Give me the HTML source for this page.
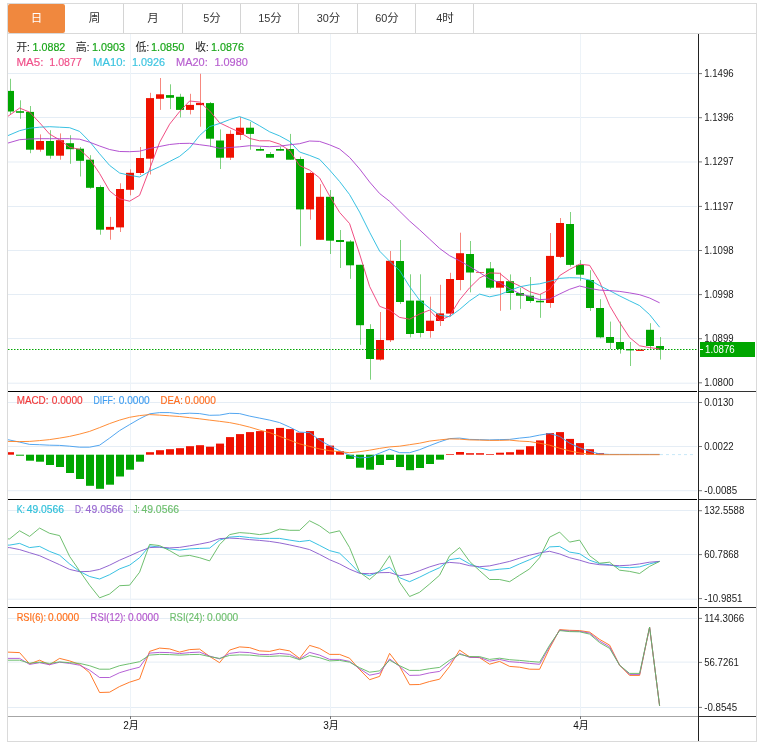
<!DOCTYPE html>
<html lang="zh-CN"><head><meta charset="utf-8"><title>K线图</title>
<style>
html,body{margin:0;padding:0;background:#fff}
body{width:766px;height:751px;position:relative;overflow:hidden;font-family:"Liberation Sans","Noto Sans CJK SC",sans-serif}
.box{position:absolute;left:7px;top:3px;width:748px;height:737px;border:1px solid #dadada;background:#fff}
.tabs{position:absolute;left:8px;top:4px;width:748px;height:29px;border-bottom:1px solid #d9d9d9;background:#fff}
.tab{position:absolute;top:4px;height:29px;line-height:29px;text-align:center;font-size:11.5px;color:#333;border-right:1px solid #d4d4d4;box-sizing:content-box}
.tab .n{font-size:10.9px;padding-left:1px}
.tab.on{background:#f0883e;color:#fff;border-right-color:#f0883e;border-radius:2px;width:57px !important;border-right:0}
svg text{font-family:"Liberation Sans","Noto Sans CJK SC",sans-serif}
.ax{font-size:10.3px;fill:#1a1a1a}
.xl{font-size:10px;fill:#111}
.lg{font-size:11.3px}
.cj{font-size:11px}
.ls{font-size:11.1px}
</style></head><body>
<div class="box"></div>
<div class="tabs"></div>
<div class="tab on" style="left:8px;width:57px">日</div><div class="tab" style="left:66px;width:57px">周</div><div class="tab" style="left:124px;width:58px">月</div><div class="tab" style="left:183px;width:57px"><span class="n">5</span>分</div><div class="tab" style="left:241px;width:57px"><span class="n">15</span>分</div><div class="tab" style="left:299px;width:58px"><span class="n">30</span>分</div><div class="tab" style="left:358px;width:57px"><span class="n">60</span>分</div><div class="tab" style="left:416px;width:57px"><span class="n">4</span>时</div>
<svg width="766" height="751" viewBox="0 0 766 751" style="position:absolute;left:0;top:0">
<defs><clipPath id="cp"><rect x="8" y="34" width="690" height="682"/></clipPath></defs>
<g><rect x="8" y="73" width="689" height="1" fill="#e5edf5"/><rect x="8" y="117" width="689" height="1" fill="#e5edf5"/><rect x="8" y="161.5" width="689" height="1" fill="#e5edf5"/><rect x="8" y="206" width="689" height="1" fill="#e5edf5"/><rect x="8" y="250" width="689" height="1" fill="#e5edf5"/><rect x="8" y="294" width="689" height="1" fill="#e5edf5"/><rect x="8" y="338" width="689" height="1" fill="#e5edf5"/><rect x="8" y="382.7" width="689" height="1" fill="#e5edf5"/><rect x="8" y="402" width="689" height="1" fill="#e5edf5"/><rect x="8" y="446" width="689" height="1" fill="#e5edf5"/><rect x="8" y="490.2" width="689" height="1" fill="#e5edf5"/><rect x="8" y="510" width="689" height="1" fill="#e5edf5"/><rect x="8" y="554" width="689" height="1" fill="#e5edf5"/><rect x="8" y="598.7" width="689" height="1" fill="#e5edf5"/><rect x="8" y="618" width="689" height="1" fill="#e5edf5"/><rect x="8" y="661.6" width="689" height="1" fill="#e5edf5"/><rect x="8" y="707" width="689" height="1" fill="#e5edf5"/><rect x="130" y="34" width="1" height="682" fill="#edf3f8"/><rect x="330" y="34" width="1" height="682" fill="#edf3f8"/><rect x="580" y="34" width="1" height="682" fill="#edf3f8"/></g>
<rect x="8" y="391" width="689" height="1" fill="#000"/>
<rect x="699" y="391" width="57" height="1" fill="#333"/>
<rect x="8" y="499" width="689" height="1" fill="#000"/>
<rect x="699" y="499" width="57" height="1" fill="#333"/>
<rect x="8" y="607" width="689" height="1" fill="#000"/>
<rect x="699" y="607" width="57" height="1" fill="#333"/>
<rect x="8" y="716" width="690" height="1" fill="#a6a6a6"/>
<rect x="698" y="716" width="58" height="1" fill="#333"/>
<rect x="130" y="716" width="1" height="3" fill="#777"/>
<rect x="330" y="716" width="1" height="3" fill="#777"/>
<rect x="580" y="716" width="1" height="3" fill="#777"/>
<g clip-path="url(#cp)">
<rect x="10" y="78.8" width="1" height="35.5" fill="#00a600" opacity="0.5"/>
<rect x="6" y="90.9" width="8" height="20.6" fill="#00a600"/>
<rect x="20" y="100.3" width="1" height="18.5" fill="#00a600" opacity="0.5"/>
<rect x="16" y="111.2" width="8" height="1.6" fill="#00a600"/>
<rect x="30" y="106" width="1" height="47.2" fill="#00a600" opacity="0.5"/>
<rect x="26" y="111.9" width="8" height="37.8" fill="#00a600"/>
<rect x="40" y="134.4" width="1" height="17.3" fill="#ee1100" opacity="0.5"/>
<rect x="36" y="141" width="8" height="8.7" fill="#ee1100"/>
<rect x="50" y="130.2" width="1" height="28.5" fill="#00a600" opacity="0.5"/>
<rect x="46" y="141" width="8" height="14.7" fill="#00a600"/>
<rect x="60" y="133.4" width="1" height="26.3" fill="#ee1100" opacity="0.5"/>
<rect x="56" y="140.2" width="8" height="15.5" fill="#ee1100"/>
<rect x="70" y="135.2" width="1" height="28.6" fill="#00a600" opacity="0.5"/>
<rect x="66" y="143.2" width="8" height="6" fill="#00a600"/>
<rect x="80" y="147" width="1" height="29.5" fill="#00a600" opacity="0.5"/>
<rect x="76" y="148.7" width="8" height="12.1" fill="#00a600"/>
<rect x="90" y="155.2" width="1" height="33.6" fill="#00a600" opacity="0.5"/>
<rect x="86" y="159.7" width="8" height="28.1" fill="#00a600"/>
<rect x="100" y="185.3" width="1" height="49.4" fill="#00a600" opacity="0.5"/>
<rect x="96" y="187" width="8" height="42.7" fill="#00a600"/>
<rect x="110" y="216.9" width="1" height="22.8" fill="#ee1100" opacity="0.5"/>
<rect x="106" y="226.9" width="8" height="2.8" fill="#ee1100"/>
<rect x="120" y="183.3" width="1" height="48.7" fill="#ee1100" opacity="0.5"/>
<rect x="116" y="189" width="8" height="38.4" fill="#ee1100"/>
<rect x="130" y="169.3" width="1" height="26" fill="#ee1100" opacity="0.5"/>
<rect x="126" y="172.8" width="8" height="17" fill="#ee1100"/>
<rect x="140" y="147" width="1" height="28" fill="#ee1100" opacity="0.5"/>
<rect x="136" y="158" width="8" height="15" fill="#ee1100"/>
<rect x="150" y="92.8" width="1" height="81.7" fill="#ee1100" opacity="0.5"/>
<rect x="146" y="98.1" width="8" height="60.6" fill="#ee1100"/>
<rect x="160" y="78" width="1" height="31.9" fill="#ee1100" opacity="0.5"/>
<rect x="156" y="94.3" width="8" height="4.5" fill="#ee1100"/>
<rect x="170" y="84.3" width="1" height="24.8" fill="#00a600" opacity="0.5"/>
<rect x="166" y="95.1" width="8" height="2.7" fill="#00a600"/>
<rect x="180" y="93.8" width="1" height="23.6" fill="#00a600" opacity="0.5"/>
<rect x="176" y="96.8" width="8" height="13.1" fill="#00a600"/>
<rect x="190" y="93.8" width="1" height="20.6" fill="#ee1100" opacity="0.5"/>
<rect x="186" y="104.9" width="8" height="5" fill="#ee1100"/>
<rect x="200" y="73.8" width="1" height="52.9" fill="#ee1100" opacity="0.5"/>
<rect x="196" y="102.9" width="8" height="2.2" fill="#ee1100"/>
<rect x="210" y="102" width="1" height="45" fill="#00a600" opacity="0.5"/>
<rect x="206" y="103.1" width="8" height="35.6" fill="#00a600"/>
<rect x="220" y="129.4" width="1" height="39.6" fill="#00a600" opacity="0.5"/>
<rect x="216" y="140.5" width="8" height="17.2" fill="#00a600"/>
<rect x="230" y="130.2" width="1" height="29.8" fill="#ee1100" opacity="0.5"/>
<rect x="226" y="133.9" width="8" height="23.8" fill="#ee1100"/>
<rect x="240" y="117.1" width="1" height="22.9" fill="#ee1100" opacity="0.5"/>
<rect x="236" y="127.7" width="8" height="7.2" fill="#ee1100"/>
<rect x="250" y="121.9" width="1" height="27.8" fill="#00a600" opacity="0.5"/>
<rect x="246" y="127.7" width="8" height="6.2" fill="#00a600"/>
<rect x="260" y="147" width="1" height="3.7" fill="#00a600" opacity="0.5"/>
<rect x="256" y="149" width="8" height="1.7" fill="#00a600"/>
<rect x="270" y="152" width="1" height="5.7" fill="#00a600" opacity="0.5"/>
<rect x="266" y="154" width="8" height="3.7" fill="#00a600"/>
<rect x="280" y="147" width="1" height="3.7" fill="#00a600" opacity="0.5"/>
<rect x="276" y="149" width="8" height="1.7" fill="#00a600"/>
<rect x="290" y="133.9" width="1" height="25.8" fill="#00a600" opacity="0.5"/>
<rect x="286" y="149" width="8" height="10.7" fill="#00a600"/>
<rect x="300" y="156.7" width="1" height="89.5" fill="#00a600" opacity="0.5"/>
<rect x="296" y="159" width="8" height="50.4" fill="#00a600"/>
<rect x="310" y="172" width="1" height="47.7" fill="#ee1100" opacity="0.5"/>
<rect x="306" y="173" width="8" height="36.4" fill="#ee1100"/>
<rect x="320" y="184.2" width="1" height="55.6" fill="#ee1100" opacity="0.5"/>
<rect x="316" y="196.8" width="8" height="43" fill="#ee1100"/>
<rect x="330" y="190" width="1" height="64" fill="#00a600" opacity="0.5"/>
<rect x="326" y="196.8" width="8" height="43.9" fill="#00a600"/>
<rect x="340" y="230" width="1" height="38" fill="#00a600" opacity="0.5"/>
<rect x="336" y="240" width="8" height="2" fill="#00a600"/>
<rect x="350" y="240" width="1" height="38.8" fill="#00a600" opacity="0.5"/>
<rect x="346" y="241.5" width="8" height="23.8" fill="#00a600"/>
<rect x="360" y="264.8" width="1" height="80" fill="#00a600" opacity="0.5"/>
<rect x="356" y="264.8" width="8" height="60.4" fill="#00a600"/>
<rect x="370" y="324.2" width="1" height="55.5" fill="#00a600" opacity="0.5"/>
<rect x="366" y="329" width="8" height="30" fill="#00a600"/>
<rect x="380" y="312" width="1" height="48.6" fill="#ee1100" opacity="0.5"/>
<rect x="376" y="340" width="8" height="19.6" fill="#ee1100"/>
<rect x="390" y="251" width="1" height="91" fill="#ee1100" opacity="0.5"/>
<rect x="386" y="260.8" width="8" height="79.4" fill="#ee1100"/>
<rect x="400" y="240" width="1" height="64" fill="#00a600" opacity="0.5"/>
<rect x="396" y="261" width="8" height="41" fill="#00a600"/>
<rect x="410" y="274.3" width="1" height="63.1" fill="#00a600" opacity="0.5"/>
<rect x="406" y="300.6" width="8" height="33.4" fill="#00a600"/>
<rect x="420" y="274.3" width="1" height="63.1" fill="#00a600" opacity="0.5"/>
<rect x="416" y="300.6" width="8" height="32.4" fill="#00a600"/>
<rect x="430" y="296.6" width="1" height="41.1" fill="#ee1100" opacity="0.5"/>
<rect x="426" y="320.7" width="8" height="10.3" fill="#ee1100"/>
<rect x="440" y="284.8" width="1" height="41.2" fill="#ee1100" opacity="0.5"/>
<rect x="436" y="313.4" width="8" height="7.6" fill="#ee1100"/>
<rect x="450" y="272.8" width="1" height="43.8" fill="#ee1100" opacity="0.5"/>
<rect x="446" y="279" width="8" height="34.6" fill="#ee1100"/>
<rect x="460" y="232.7" width="1" height="57.6" fill="#ee1100" opacity="0.5"/>
<rect x="456" y="253.2" width="8" height="26.8" fill="#ee1100"/>
<rect x="470" y="241" width="1" height="51.3" fill="#00a600" opacity="0.5"/>
<rect x="466" y="254" width="8" height="18.5" fill="#00a600"/>
<rect x="480" y="272" width="1" height="1" fill="#ee1100" opacity="0.5"/>
<rect x="476" y="272" width="8" height="1" fill="#ee1100" opacity="0.6"/>
<rect x="490" y="262" width="1" height="27" fill="#00a600" opacity="0.5"/>
<rect x="486" y="268.4" width="8" height="19.3" fill="#00a600"/>
<rect x="500" y="272.7" width="1" height="38.1" fill="#ee1100" opacity="0.5"/>
<rect x="496" y="281.2" width="8" height="6.5" fill="#ee1100"/>
<rect x="510" y="274.4" width="1" height="35.4" fill="#00a600" opacity="0.5"/>
<rect x="506" y="281.2" width="8" height="11.8" fill="#00a600"/>
<rect x="520" y="287.7" width="1" height="21.1" fill="#00a600" opacity="0.5"/>
<rect x="516" y="293" width="8" height="2.7" fill="#00a600"/>
<rect x="530" y="277" width="1" height="25.8" fill="#00a600" opacity="0.5"/>
<rect x="526" y="295.7" width="8" height="5.3" fill="#00a600"/>
<rect x="540" y="294" width="1" height="23.8" fill="#00a600" opacity="0.5"/>
<rect x="536" y="300.8" width="8" height="1.5" fill="#00a600"/>
<rect x="550" y="233" width="1" height="74.8" fill="#ee1100" opacity="0.5"/>
<rect x="546" y="255.9" width="8" height="47.1" fill="#ee1100"/>
<rect x="560" y="218" width="1" height="40" fill="#ee1100" opacity="0.5"/>
<rect x="556" y="223" width="8" height="33.9" fill="#ee1100"/>
<rect x="570" y="212" width="1" height="54.7" fill="#00a600" opacity="0.5"/>
<rect x="566" y="224" width="8" height="40.9" fill="#00a600"/>
<rect x="580" y="260" width="1" height="20.7" fill="#00a600" opacity="0.5"/>
<rect x="576" y="264.9" width="8" height="9.8" fill="#00a600"/>
<rect x="590" y="270.2" width="1" height="40.8" fill="#00a600" opacity="0.5"/>
<rect x="586" y="280" width="8" height="28" fill="#00a600"/>
<rect x="600" y="299.2" width="1" height="39.1" fill="#00a600" opacity="0.5"/>
<rect x="596" y="308" width="8" height="29.3" fill="#00a600"/>
<rect x="610" y="321.6" width="1" height="27.4" fill="#00a600" opacity="0.5"/>
<rect x="606" y="337" width="8" height="5.9" fill="#00a600"/>
<rect x="620" y="321.6" width="1" height="32" fill="#00a600" opacity="0.5"/>
<rect x="616" y="342" width="8" height="7" fill="#00a600"/>
<rect x="630" y="342" width="1" height="24" fill="#00a600" opacity="0.5"/>
<rect x="626" y="349" width="8" height="1.4" fill="#00a600"/>
<rect x="640" y="349.6" width="1" height="1.3" fill="#ee1100" opacity="0.5"/>
<rect x="636" y="349.6" width="8" height="1.3" fill="#ee1100"/>
<rect x="650" y="323.2" width="1" height="26.4" fill="#00a600" opacity="0.5"/>
<rect x="646" y="329.8" width="8" height="16.2" fill="#00a600"/>
<rect x="660" y="337" width="1" height="22.6" fill="#00a600" opacity="0.5"/>
<rect x="656" y="346" width="8" height="3.6" fill="#00a600"/>
<line x1="8" y1="349.5" x2="697" y2="349.5" stroke="#00a600" stroke-width="1" stroke-dasharray="1.5,1.5"/>
<polyline points="7.5,116.6 19.6,108.1 29.6,112.1 39.6,122.7 49.6,134.1 59.6,139.9 69.6,147.2 79.6,149.4 89.6,158.7 99.6,173.5 109.6,190.9 119.6,198.8 129.6,201.2 139.6,195.3 149.6,169 159.6,142.4 169.6,124.2 179.6,111.6 189.6,101 199.6,102 209.6,110.8 219.6,122.8 229.6,127.6 239.6,132.2 249.6,138.4 259.6,140.8 269.6,140.8 279.6,144.1 289.6,150.5 299.6,165.6 309.6,170.1 319.6,177.9 329.6,195.9 339.6,212.4 349.6,223.6 359.6,254 369.6,286.4 379.6,306.3 389.6,310.1 399.6,317.4 409.6,319.2 419.6,314 429.6,310.1 439.6,320.6 449.6,316 459.6,299.9 469.6,287.8 479.6,278 489.6,272.9 499.6,273.3 509.6,281.3 519.6,285.9 529.6,291.7 539.6,294.6 549.6,289.6 559.6,275.6 569.6,269.4 579.6,264.2 589.6,265.3 599.6,281.6 609.6,305.6 619.6,322.4 629.6,337.5 639.6,345.8 649.6,347.6 659.6,348.9" fill="none" stroke="#ee3a75" stroke-width="0.9" stroke-linejoin="round" />
<polyline points="7.5,135.8 19.6,130.7 29.6,128.2 39.6,127.2 49.6,126.7 59.6,127.2 69.6,127.7 79.6,131.4 89.6,141.5 99.6,153.8 109.6,165.4 119.6,173 129.6,175.3 139.6,177 149.6,171.2 159.6,166.7 169.6,161.5 179.6,156.4 189.6,148.1 199.6,135.5 209.6,126.6 219.6,123.5 229.6,119.6 239.6,116.6 249.6,120.2 259.6,125.8 269.6,131.8 279.6,135.9 289.6,141.4 299.6,152 309.6,155.4 319.6,159.3 329.6,170 339.6,181.5 349.6,194.6 359.6,212.1 369.6,232.2 379.6,251.1 389.6,261.2 399.6,270.5 409.6,286.6 419.6,300.2 429.6,308.2 439.6,315.3 449.6,316.7 459.6,309.5 469.6,300.9 479.6,294.1 489.6,296.8 499.6,294.7 509.6,290.6 519.6,286.8 529.6,284.9 539.6,283.8 549.6,281.4 559.6,278.4 569.6,277.7 579.6,277.9 589.6,280 599.6,285.6 609.6,290.6 619.6,295.9 629.6,300.8 639.6,305.6 649.6,314.6 659.6,327.2" fill="none" stroke="#22badf" stroke-width="0.9" stroke-linejoin="round" />
<polyline points="7.5,143.2 19.6,139.7 29.6,139 39.6,138.7 49.6,138.7 59.6,138.7 69.6,138.7 79.6,139.2 89.6,142.2 99.6,146 109.6,149.5 119.6,151.5 129.6,151.7 139.6,151.2 149.6,148.5 159.6,146.5 169.6,144.5 179.6,143.5 189.6,143.3 199.6,144.7 209.6,146 219.6,148.3 229.6,147.5 239.6,146.8 249.6,145.7 259.6,146.2 269.6,146.7 279.6,146.2 289.6,144.8 299.6,143.7 309.6,141 319.6,141.4 329.6,144.8 339.6,149 349.6,157.4 359.6,168.9 369.6,182 379.6,193.5 389.6,201.3 399.6,211.2 409.6,221 419.6,229.8 429.6,239.1 439.6,248.4 449.6,255.7 459.6,260.8 469.6,266.5 479.6,272.6 489.6,279 499.6,282.6 509.6,288.6 519.6,293.5 529.6,296.5 539.6,299.6 549.6,299.1 559.6,294 569.6,289.3 579.6,286 589.6,288.4 599.6,290.1 609.6,290.6 619.6,291.4 629.6,292.9 639.6,294.7 649.6,298 659.6,302.8" fill="none" stroke="#aa40cc" stroke-width="0.9" stroke-linejoin="round" />
<rect x="6" y="452.2" width="8" height="2.5" fill="#ee1100"/>
<rect x="16" y="454.7" width="8" height="1" fill="#00a600"/>
<rect x="26" y="454.7" width="8" height="6" fill="#00a600"/>
<rect x="36" y="454.7" width="8" height="7" fill="#00a600"/>
<rect x="46" y="454.7" width="8" height="10.3" fill="#00a600"/>
<rect x="56" y="454.7" width="8" height="12.3" fill="#00a600"/>
<rect x="66" y="454.7" width="8" height="18.3" fill="#00a600"/>
<rect x="76" y="454.7" width="8" height="24.3" fill="#00a600"/>
<rect x="86" y="454.7" width="8" height="31.1" fill="#00a600"/>
<rect x="96" y="454.7" width="8" height="34.1" fill="#00a600"/>
<rect x="106" y="454.7" width="8" height="30" fill="#00a600"/>
<rect x="116" y="454.7" width="8" height="21.8" fill="#00a600"/>
<rect x="126" y="454.7" width="8" height="15" fill="#00a600"/>
<rect x="136" y="454.7" width="8" height="7" fill="#00a600"/>
<rect x="146" y="452.2" width="8" height="2.5" fill="#ee1100"/>
<rect x="156" y="450.2" width="8" height="4.5" fill="#ee1100"/>
<rect x="166" y="449.2" width="8" height="5.5" fill="#ee1100"/>
<rect x="176" y="448.2" width="8" height="6.5" fill="#ee1100"/>
<rect x="186" y="446.2" width="8" height="8.5" fill="#ee1100"/>
<rect x="196" y="445.2" width="8" height="9.5" fill="#ee1100"/>
<rect x="206" y="446.7" width="8" height="8" fill="#ee1100"/>
<rect x="216" y="443.6" width="8" height="11.1" fill="#ee1100"/>
<rect x="226" y="437.1" width="8" height="17.6" fill="#ee1100"/>
<rect x="236" y="434.1" width="8" height="20.6" fill="#ee1100"/>
<rect x="246" y="432.1" width="8" height="22.6" fill="#ee1100"/>
<rect x="256" y="431.1" width="8" height="23.6" fill="#ee1100"/>
<rect x="266" y="429.1" width="8" height="25.6" fill="#ee1100"/>
<rect x="276" y="427.9" width="8" height="26.8" fill="#ee1100"/>
<rect x="286" y="429.1" width="8" height="25.6" fill="#ee1100"/>
<rect x="296" y="432.6" width="8" height="22.1" fill="#ee1100"/>
<rect x="306" y="431.1" width="8" height="23.6" fill="#ee1100"/>
<rect x="316" y="438.1" width="8" height="16.6" fill="#ee1100"/>
<rect x="326" y="445.6" width="8" height="9.1" fill="#ee1100"/>
<rect x="336" y="451.2" width="8" height="3.5" fill="#ee1100"/>
<rect x="346" y="454.7" width="8" height="4.2" fill="#00a600"/>
<rect x="356" y="454.7" width="8" height="13" fill="#00a600"/>
<rect x="366" y="454.7" width="8" height="15" fill="#00a600"/>
<rect x="376" y="454.7" width="8" height="10.3" fill="#00a600"/>
<rect x="386" y="454.7" width="8" height="5.3" fill="#00a600"/>
<rect x="396" y="454.7" width="8" height="12.3" fill="#00a600"/>
<rect x="406" y="454.7" width="8" height="15.5" fill="#00a600"/>
<rect x="416" y="454.7" width="8" height="13.3" fill="#00a600"/>
<rect x="426" y="454.7" width="8" height="9.3" fill="#00a600"/>
<rect x="436" y="454.7" width="8" height="5" fill="#00a600"/>
<rect x="446" y="454" width="8" height="0.7" fill="#ee1100"/>
<rect x="456" y="452" width="8" height="2.7" fill="#ee1100"/>
<rect x="466" y="453.2" width="8" height="1.5" fill="#ee1100"/>
<rect x="476" y="453.2" width="8" height="1.5" fill="#ee1100"/>
<rect x="486" y="454" width="8" height="0.7" fill="#ee1100"/>
<rect x="496" y="452.7" width="8" height="2" fill="#ee1100"/>
<rect x="506" y="452.2" width="8" height="2.5" fill="#ee1100"/>
<rect x="516" y="449.7" width="8" height="5" fill="#ee1100"/>
<rect x="526" y="446.2" width="8" height="8.5" fill="#ee1100"/>
<rect x="536" y="440.4" width="8" height="14.3" fill="#ee1100"/>
<rect x="546" y="433.1" width="8" height="21.6" fill="#ee1100"/>
<rect x="556" y="432.1" width="8" height="22.6" fill="#ee1100"/>
<rect x="566" y="438.9" width="8" height="15.8" fill="#ee1100"/>
<rect x="576" y="443.1" width="8" height="11.6" fill="#ee1100"/>
<rect x="586" y="449.2" width="8" height="5.5" fill="#ee1100"/>
<rect x="596" y="453.2" width="8" height="1.5" fill="#ee1100"/>
<line x1="660" y1="454.6" x2="696" y2="454.6" stroke="#c8e8f8" stroke-width="1" stroke-dasharray="3,3"/>
<polyline points="7.5,439.6 19.6,442.1 29.6,444.4 39.6,444.7 49.6,445.2 59.6,445.4 69.6,446.2 79.6,447.2 89.6,447.2 99.6,445.2 109.6,438.1 119.6,430.6 129.6,424.6 139.6,418.8 149.6,413.8 159.6,412.6 169.6,412.6 179.6,413.8 189.6,413.2 199.6,413.6 209.6,415.3 219.6,415.1 229.6,413.3 239.6,413.6 249.6,416.1 259.6,418.1 269.6,420.1 279.6,422.6 289.6,427.1 299.6,432.1 309.6,432.6 319.6,440.1 329.6,445.7 339.6,450.7 349.6,455.2 359.6,457.9 369.6,457.2 379.6,453.2 389.6,449.2 399.6,452.7 409.6,452.7 419.6,449.7 429.6,445.7 439.6,441.9 449.6,438.6 459.6,438.1 469.6,439.4 479.6,439.6 489.6,439.9 499.6,439.6 509.6,439.4 519.6,438.1 529.6,437.1 539.6,435.1 549.6,433.5 559.6,436.4 569.6,443.2 579.6,447.7 589.6,451.4 599.6,453.9 609.6,454.4 619.6,454.4 629.6,454.4 639.6,454.4 649.6,454.4 659.6,454.4" fill="none" stroke="#409cee" stroke-width="0.9" stroke-linejoin="round" />
<polyline points="7.5,441.4 19.6,441.6 29.6,441.4 39.6,440.6 49.6,439.6 59.6,438.1 69.6,436.4 79.6,434.1 89.6,431.4 99.6,427.6 109.6,423.6 119.6,420.1 129.6,417.3 139.6,415.6 149.6,414.6 159.6,415.1 169.6,415.8 179.6,416.5 189.6,417.7 199.6,418.8 209.6,420.1 219.6,421.3 229.6,422.6 239.6,424.6 249.6,427.1 259.6,430.1 269.6,432.6 279.6,436.4 289.6,440.1 299.6,443.9 309.6,446.4 319.6,448.9 329.6,450.7 339.6,451.7 349.6,452.7 359.6,451.7 369.6,450.2 379.6,448.4 389.6,446.9 399.6,446.2 409.6,444.7 419.6,443.2 429.6,441.1 439.6,439.9 449.6,438.9 459.6,439.1 469.6,439.9 479.6,440.1 489.6,440.4 499.6,440.4 509.6,440.1 519.6,441.1 529.6,441.6 539.6,443.2 549.6,445.2 559.6,448.2 569.6,450.9 579.6,452.9 589.6,454.2 599.6,454.7 609.6,454.7 619.6,454.7 629.6,454.7 639.6,454.7 649.6,454.7 659.6,454.7" fill="none" stroke="#ff8020" stroke-width="0.9" stroke-linejoin="round" />
<polyline points="7.5,545.1 9.6,545.1 19.6,543.4 29.6,547.6 39.6,546.4 49.6,551.4 59.6,555.2 69.6,563.9 79.6,571.4 89.6,576.5 99.6,579 109.6,574.7 119.6,568.9 129.6,565.2 139.6,557.7 149.6,545.9 159.6,547.1 169.6,548.9 179.6,550.1 189.6,548.9 199.6,548.4 209.6,548.1 219.6,540.1 229.6,537.1 239.6,536.4 249.6,537.6 259.6,538.4 269.6,538.4 279.6,538.4 289.6,540.1 299.6,541.6 309.6,540.4 319.6,545.4 329.6,550.6 339.6,553.2 349.6,562.7 359.6,573 369.6,575.7 379.6,571.4 389.6,567.2 399.6,577.7 409.6,581.7 419.6,577.2 429.6,572.2 439.6,567.7 449.6,559.7 459.6,558.2 469.6,563.9 479.6,567.7 489.6,570.4 499.6,569.2 509.6,568.4 519.6,563.9 529.6,559.7 539.6,554.9 549.6,546.9 559.6,546.4 569.6,552.1 579.6,553.7 589.6,560.2 599.6,563.7 609.6,564.7 619.6,567.2 629.6,567.7 639.6,566.9 649.6,563.9 659.6,561.4" fill="none" stroke="#22badf" stroke-width="0.9" stroke-linejoin="round" />
<polyline points="7.5,547.6 9.6,547.6 19.6,549.6 29.6,552.7 39.6,555.7 49.6,560.2 59.6,564.7 69.6,569.4 79.6,571.7 89.6,571.4 99.6,569.4 109.6,565.2 119.6,560.2 129.6,555.9 139.6,551.4 149.6,547.6 159.6,547.1 169.6,547.9 179.6,547.4 189.6,545.8 199.6,544.1 209.6,542.1 219.6,538.6 229.6,538.1 239.6,538.6 249.6,539.6 259.6,540.4 269.6,541.4 279.6,542.9 289.6,544.9 299.6,547.1 309.6,549.6 319.6,554.4 329.6,559.7 339.6,563.9 349.6,569.2 359.6,573.3 369.6,573.7 379.6,572.7 389.6,572.5 399.6,575.7 409.6,574.2 419.6,570.7 429.6,566.9 439.6,563.9 449.6,562.4 459.6,563.2 469.6,565.7 479.6,566.7 489.6,565.9 499.6,563.7 509.6,561.4 519.6,558.2 529.6,555.2 539.6,552.9 549.6,551.3 559.6,553.9 569.6,557.7 579.6,560.2 589.6,563.2 599.6,564.7 609.6,565.2 619.6,565.7 629.6,565.2 639.6,563.9 649.6,562.2 659.6,561.4" fill="none" stroke="#8756cc" stroke-width="0.9" stroke-linejoin="round" />
<polyline points="7.5,538.9 9.6,538.9 19.6,530.8 29.6,536.4 39.6,528.1 49.6,533.3 59.6,535.6 69.6,556.4 79.6,570.9 89.6,585.2 99.6,597.8 109.6,594 119.6,585.7 129.6,585.2 139.6,572.2 149.6,544.4 159.6,545.6 169.6,550.6 179.6,556.4 189.6,555.4 199.6,557.7 209.6,560.9 219.6,544.6 229.6,534.6 239.6,532.6 249.6,533.3 259.6,534.6 269.6,533.1 279.6,529.1 289.6,530.3 299.6,530.3 309.6,520.8 319.6,525.8 329.6,533.1 339.6,530.8 349.6,547.6 359.6,572.2 369.6,579.5 379.6,570.7 389.6,555.7 399.6,582.2 409.6,596.5 419.6,592.3 429.6,584 439.6,575.2 449.6,555.7 459.6,547.6 469.6,561.4 479.6,570.7 489.6,579.5 499.6,579.5 509.6,581.7 519.6,575.2 529.6,568.9 539.6,557.7 549.6,537.2 559.6,532.1 569.6,542.1 579.6,540.1 589.6,555.7 599.6,563.2 609.6,562.2 619.6,570.2 629.6,571.4 639.6,573.5 649.6,566.4 659.6,561.4" fill="none" stroke="#5fb85f" stroke-width="0.9" stroke-linejoin="round" />
<polyline points="7.5,652.1 19.6,652.6 29.6,663.9 39.6,660.2 49.6,664.7 59.6,658.4 69.6,660.9 79.6,664.4 89.6,672.7 99.6,692.5 109.6,692.2 119.6,686.5 129.6,682.2 139.6,679 149.6,651.4 159.6,648.1 169.6,648.9 179.6,652.1 189.6,649.6 199.6,649.1 209.6,656.4 219.6,662.7 229.6,650.1 239.6,646.9 249.6,647.6 259.6,650.9 269.6,651.4 279.6,649.1 289.6,650.9 299.6,658.4 309.6,645.4 319.6,648.4 329.6,654.4 339.6,654.4 349.6,658.2 359.6,669.6 369.6,679.7 379.6,676.4 389.6,653.4 399.6,666.4 409.6,684.7 419.6,684.5 429.6,681.5 439.6,679.2 449.6,666.4 459.6,650.1 469.6,656.9 479.6,657.7 489.6,664.2 499.6,661.4 509.6,666.4 519.6,667.2 529.6,669.2 539.6,669.3 549.6,648.3 559.6,629.6 569.6,630.3 579.6,630.6 589.6,632.1 599.6,639.4 609.6,645.1 619.6,665.2 629.6,675.4 639.6,675.4 649.6,627.1 659.6,705.8" fill="none" stroke="#ff6c14" stroke-width="0.9" stroke-linejoin="round" />
<polyline points="7.5,658.4 19.6,658.4 29.6,664.4 39.6,662.7 49.6,664.7 59.6,662.2 69.6,663.4 79.6,665.2 89.6,670.2 99.6,677.5 109.6,677.5 119.6,672.7 129.6,669.7 139.6,667.2 149.6,653.1 159.6,652.4 169.6,652.6 179.6,653.6 189.6,652.6 199.6,652.1 209.6,656.1 219.6,658.9 229.6,653.4 239.6,652.1 249.6,652.6 259.6,654.4 269.6,654.6 279.6,653.4 289.6,654.4 299.6,659.2 309.6,652.4 319.6,655.1 329.6,659.4 339.6,659.4 349.6,661.4 359.6,668.7 369.6,675.2 379.6,673.2 389.6,658.9 399.6,666.4 409.6,675.4 419.6,675.2 429.6,672.9 439.6,671.4 449.6,662.7 459.6,653.4 469.6,657.4 479.6,657.4 489.6,661.2 499.6,659.4 509.6,661.7 519.6,662.4 529.6,663.4 539.6,664.3 549.6,646.5 559.6,630.1 569.6,631.1 579.6,631.3 589.6,633.1 599.6,641.1 609.6,646.9 619.6,665.2 629.6,674.4 639.6,674.4 649.6,627.1 659.6,705.8" fill="none" stroke="#ad4fd0" stroke-width="0.9" stroke-linejoin="round" />
<polyline points="7.5,660.2 19.6,660.2 29.6,663.2 39.6,662.2 49.6,663.4 59.6,661.9 69.6,662.7 79.6,663.4 89.6,665.7 99.6,669.2 109.6,669.2 119.6,665.7 129.6,663.7 139.6,661.7 149.6,655.1 159.6,654.4 169.6,654.6 179.6,655.1 189.6,654.6 199.6,654.4 209.6,656.6 219.6,658.4 229.6,655.4 239.6,654.9 249.6,655.1 259.6,656.1 269.6,656.4 279.6,655.9 289.6,656.4 299.6,659.7 309.6,655.6 319.6,657.7 329.6,660.9 339.6,660.4 349.6,662.2 359.6,667.7 369.6,672.2 379.6,670.9 389.6,660.2 399.6,665.7 409.6,670.4 419.6,670.4 429.6,668.7 439.6,667.4 449.6,660.2 459.6,654.4 469.6,656.6 479.6,656.6 489.6,659.4 499.6,658.2 509.6,659.7 519.6,660.4 529.6,661.4 539.6,662.2 549.6,645.2 559.6,630.6 569.6,631.6 579.6,631.8 589.6,634.1 599.6,642.6 609.6,648.4 619.6,665.2 629.6,673.4 639.6,673.4 649.6,627.1 659.6,705.8" fill="none" stroke="#5fb85f" stroke-width="0.9" stroke-linejoin="round" />
</g>
<rect x="698" y="34" width="1" height="707" fill="#222"/>
<rect x="699" y="73.1" width="3" height="1" fill="#777"/><text x="704.2" y="77.1" class="ax" textLength="29.4" lengthAdjust="spacingAndGlyphs">1.1496</text>
<rect x="699" y="117.2" width="3" height="1" fill="#777"/><text x="704.2" y="121.2" class="ax" textLength="29.4" lengthAdjust="spacingAndGlyphs">1.1396</text>
<rect x="699" y="161.4" width="3" height="1" fill="#777"/><text x="704.2" y="165.4" class="ax" textLength="29.4" lengthAdjust="spacingAndGlyphs">1.1297</text>
<rect x="699" y="205.9" width="3" height="1" fill="#777"/><text x="704.2" y="209.9" class="ax" textLength="29.4" lengthAdjust="spacingAndGlyphs">1.1197</text>
<rect x="699" y="250" width="3" height="1" fill="#777"/><text x="704.2" y="254" class="ax" textLength="29.4" lengthAdjust="spacingAndGlyphs">1.1098</text>
<rect x="699" y="294.1" width="3" height="1" fill="#777"/><text x="704.2" y="298.1" class="ax" textLength="29.4" lengthAdjust="spacingAndGlyphs">1.0998</text>
<rect x="699" y="338.2" width="3" height="1" fill="#777"/><text x="704.2" y="342.2" class="ax" textLength="29.4" lengthAdjust="spacingAndGlyphs">1.0899</text>
<rect x="699" y="382.3" width="3" height="1" fill="#777"/><text x="704.2" y="386.3" class="ax" textLength="29.4" lengthAdjust="spacingAndGlyphs">1.0800</text>
<rect x="699" y="402" width="3" height="1" fill="#777"/><text x="704.2" y="406" class="ax" textLength="29.4" lengthAdjust="spacingAndGlyphs">0.0130</text>
<rect x="699" y="446" width="3" height="1" fill="#777"/><text x="704.2" y="450" class="ax" textLength="29.4" lengthAdjust="spacingAndGlyphs">0.0022</text>
<rect x="699" y="490.2" width="3" height="1" fill="#777"/><text x="704.2" y="494.2" class="ax" textLength="33" lengthAdjust="spacingAndGlyphs">-0.0085</text>
<rect x="699" y="510.2" width="3" height="1" fill="#777"/><text x="704.2" y="514.2" class="ax" textLength="40.06" lengthAdjust="spacingAndGlyphs">132.5588</text>
<rect x="699" y="554.1" width="3" height="1" fill="#777"/><text x="704.2" y="558.1" class="ax" textLength="34.73" lengthAdjust="spacingAndGlyphs">60.7868</text>
<rect x="699" y="598.1" width="3" height="1" fill="#777"/><text x="704.2" y="602.1" class="ax" textLength="38.33" lengthAdjust="spacingAndGlyphs">-10.9851</text>
<rect x="699" y="617.9" width="3" height="1" fill="#777"/><text x="704.2" y="621.9" class="ax" textLength="40.06" lengthAdjust="spacingAndGlyphs">114.3066</text>
<rect x="699" y="661.9" width="3" height="1" fill="#777"/><text x="704.2" y="665.9" class="ax" textLength="34.73" lengthAdjust="spacingAndGlyphs">56.7261</text>
<rect x="699" y="706.9" width="3" height="1" fill="#777"/><text x="704.2" y="710.9" class="ax" textLength="33" lengthAdjust="spacingAndGlyphs">-0.8545</text>
<rect x="700" y="342" width="55" height="15" fill="#00a600"/>
<rect x="700" y="349" width="3" height="1" fill="#fff"/>
<text x="705.1" y="352.8" class="ax" style="fill:#fff" textLength="29.6" lengthAdjust="spacingAndGlyphs">1.0876</text>
<text x="131.0" y="729.1" class="xl" text-anchor="middle">2月</text>
<text x="331.0" y="729.1" class="xl" text-anchor="middle">3月</text>
<text x="581.0" y="729.1" class="xl" text-anchor="middle">4月</text>
<text x="16.2" y="50.7" class="cj" fill="#222">开</text>
<text x="26.8" y="51" class="lg" fill="#222">:</text>
<text x="32.6" y="51" class="lg" fill="#19a619" stroke="#19a619" stroke-width="0.18" textLength="32.7" lengthAdjust="spacingAndGlyphs">1.0882</text>
<text x="75.8" y="50.7" class="cj" fill="#222">高</text>
<text x="86.4" y="51" class="lg" fill="#222">:</text>
<text x="92" y="51" class="lg" fill="#19a619" stroke="#19a619" stroke-width="0.18" textLength="33" lengthAdjust="spacingAndGlyphs">1.0903</text>
<text x="135.5" y="50.7" class="cj" fill="#222">低</text>
<text x="146.2" y="51" class="lg" fill="#222">:</text>
<text x="150.9" y="51" class="lg" fill="#19a619" stroke="#19a619" stroke-width="0.18" textLength="33.4" lengthAdjust="spacingAndGlyphs">1.0850</text>
<text x="195" y="50.7" class="cj" fill="#222">收</text>
<text x="205.8" y="51" class="lg" fill="#222">:</text>
<text x="211.1" y="51" class="lg" fill="#19a619" stroke="#19a619" stroke-width="0.18" textLength="32.9" lengthAdjust="spacingAndGlyphs">1.0876</text>
<text x="16.4" y="65.6" class="lg" fill="#f0508a" stroke="#f0508a" stroke-width="0.18" textLength="27" lengthAdjust="spacingAndGlyphs">MA5:</text>
<text x="49.3" y="65.6" class="lg" fill="#f0508a" stroke="#f0508a" stroke-width="0.18" textLength="32.6" lengthAdjust="spacingAndGlyphs">1.0877</text>
<text x="93.1" y="65.6" class="lg" fill="#3cc4e0" stroke="#3cc4e0" stroke-width="0.18" textLength="32.6" lengthAdjust="spacingAndGlyphs">MA10:</text>
<text x="132" y="65.6" class="lg" fill="#3cc4e0" stroke="#3cc4e0" stroke-width="0.18" textLength="33.1" lengthAdjust="spacingAndGlyphs">1.0926</text>
<text x="176" y="65.6" class="lg" fill="#b860d0" stroke="#b860d0" stroke-width="0.18" textLength="31.8" lengthAdjust="spacingAndGlyphs">MA20:</text>
<text x="214.4" y="65.6" class="lg" fill="#b860d0" stroke="#b860d0" stroke-width="0.18" textLength="33.5" lengthAdjust="spacingAndGlyphs">1.0980</text>
<text x="16.7" y="404" class="ls" fill="#f23838" stroke="#f23838" stroke-width="0.18" textLength="31.8" lengthAdjust="spacingAndGlyphs">MACD:</text>
<text x="51.8" y="404" class="ls" fill="#f23838" stroke="#f23838" stroke-width="0.18" textLength="30.9" lengthAdjust="spacingAndGlyphs">0.0000</text>
<text x="93.6" y="404" class="ls" fill="#3f9df0" stroke="#3f9df0" stroke-width="0.18" textLength="21.7" lengthAdjust="spacingAndGlyphs">DIFF:</text>
<text x="118.7" y="404" class="ls" fill="#3f9df0" stroke="#3f9df0" stroke-width="0.18" textLength="31" lengthAdjust="spacingAndGlyphs">0.0000</text>
<text x="160.6" y="404" class="ls" fill="#ff6f22" stroke="#ff6f22" stroke-width="0.18" textLength="22.2" lengthAdjust="spacingAndGlyphs">DEA:</text>
<text x="184.8" y="404" class="ls" fill="#ff6f22" stroke="#ff6f22" stroke-width="0.18" textLength="31" lengthAdjust="spacingAndGlyphs">0.0000</text>
<text x="16.7" y="512.9" class="ls" fill="#30c0da" stroke="#30c0da" stroke-width="0.18" textLength="8.3" lengthAdjust="spacingAndGlyphs">K:</text>
<text x="26.7" y="512.9" class="ls" fill="#30c0da" stroke="#30c0da" stroke-width="0.18" textLength="37.3" lengthAdjust="spacingAndGlyphs">49.0566</text>
<text x="74.9" y="512.9" class="ls" fill="#9868d0" stroke="#9868d0" stroke-width="0.18" textLength="8.3" lengthAdjust="spacingAndGlyphs">D:</text>
<text x="85.6" y="512.9" class="ls" fill="#9868d0" stroke="#9868d0" stroke-width="0.18" textLength="37.8" lengthAdjust="spacingAndGlyphs">49.0566</text>
<text x="133.4" y="512.9" class="ls" fill="#6fbf6f" stroke="#6fbf6f" stroke-width="0.18" textLength="6.3" lengthAdjust="spacingAndGlyphs">J:</text>
<text x="141.4" y="512.9" class="ls" fill="#6fbf6f" stroke="#6fbf6f" stroke-width="0.18" textLength="37.6" lengthAdjust="spacingAndGlyphs">49.0566</text>
<text x="16.7" y="620.9" class="ls" fill="#ff6f1a" stroke="#ff6f1a" stroke-width="0.18" textLength="29.3" lengthAdjust="spacingAndGlyphs">RSI(6):</text>
<text x="48.1" y="620.9" class="ls" fill="#ff6f1a" stroke="#ff6f1a" stroke-width="0.18" textLength="31" lengthAdjust="spacingAndGlyphs">0.0000</text>
<text x="90.6" y="620.9" class="ls" fill="#b257cc" stroke="#b257cc" stroke-width="0.18" textLength="35.1" lengthAdjust="spacingAndGlyphs">RSI(12):</text>
<text x="127.9" y="620.9" class="ls" fill="#b257cc" stroke="#b257cc" stroke-width="0.18" textLength="31" lengthAdjust="spacingAndGlyphs">0.0000</text>
<text x="169.8" y="620.9" class="ls" fill="#6fbf6f" stroke="#6fbf6f" stroke-width="0.18" textLength="35.1" lengthAdjust="spacingAndGlyphs">RSI(24):</text>
<text x="207.1" y="620.9" class="ls" fill="#6fbf6f" stroke="#6fbf6f" stroke-width="0.18" textLength="31.2" lengthAdjust="spacingAndGlyphs">0.0000</text>
</svg>
</body></html>
